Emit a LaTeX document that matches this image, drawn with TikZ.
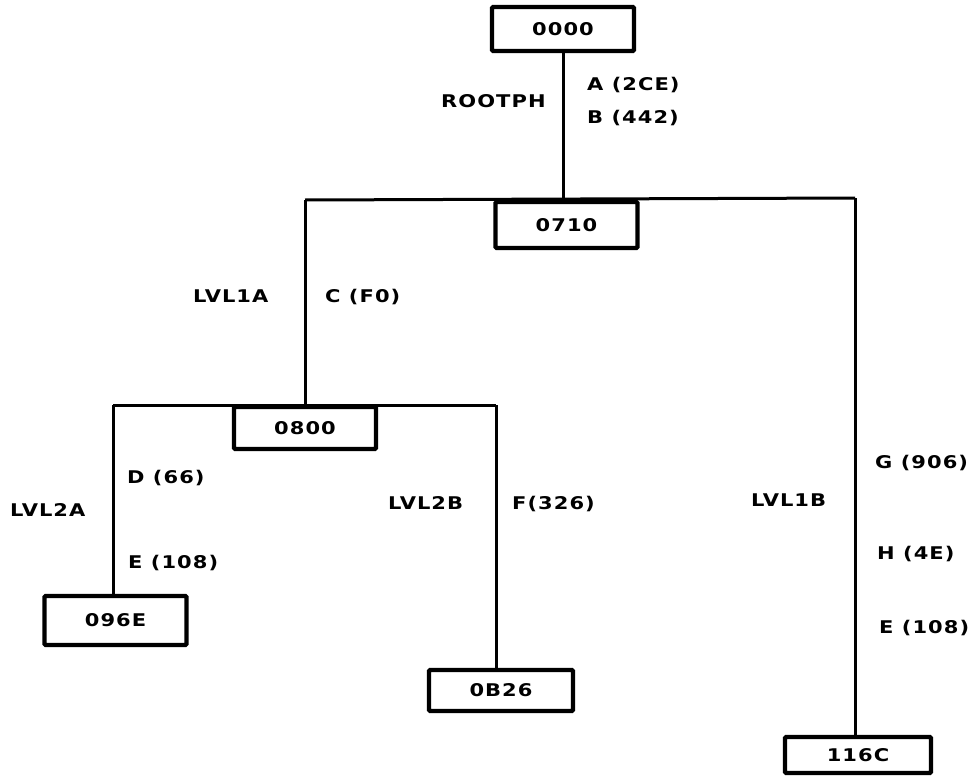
\documentclass[tikz,border=0pt]{standalone}
\usepackage{fontspec}
\setmainfont{DejaVu Sans}[BoldFont={DejaVu Sans Bold}]
\newfontfamily\lblfont{DejaVu Sans Bold}[FakeStretch=1.2,LetterSpace=6]
\begin{document}
\begin{tikzpicture}[x=1pt,y=-1pt,
  segbox/.style={draw, line width=4.2pt, rounded corners=1pt, inner sep=0pt,
    minimum width=142pt, font=\lblfont\fontsize{17.5}{17.5}\selectfont,
    text height=12.7pt, text depth=0pt},
  lbl/.style={anchor=mid west, inner sep=0pt, font=\lblfont\fontsize{17.5}{17.5}\selectfont},
  conn/.style={line width=3pt}]
\useasboundingbox (0,0) rectangle (977,776);
% boxes
\node[segbox, minimum height=44pt] (n0000) at (563,29) {0000};
\node[segbox, minimum height=46pt] (n0710) at (566.5,225) {0710};
\node[segbox, minimum height=42pt] (n0800) at (305,428) {0800};
\node[segbox, minimum height=49pt] (n096E) at (115.5,620.5) {096E};
\node[segbox, minimum height=41pt, minimum width=144pt] (n0B26) at (501,690.5) {0B26};
\node[segbox, minimum height=36pt, minimum width=146pt] (n116C) at (858,755) {116C};
% bus corners
\coordinate (b1L) at (305,200);
\coordinate (b1R) at (855,198);
\coordinate (b2L) at (113,405);
\coordinate (b2R) at (496,405);
% connectors
\draw[conn] (n0000.south) -- (n0000.south |- n0710.north);
\draw[conn] (b1L) -- (b1R);
\draw[conn] (b1L) -- (n0800.north);
\draw[conn] (b1R) -- (b1R |- n116C.north);
\draw[conn] (b2L) -- (b2R);
\draw[conn] (b2L) -- (b2L |- n096E.north);
\draw[conn] (b2R) -- (b2R |- n0B26.north);
% labels
\node[lbl] (lrootph) at (441,105) {ROOTPH};
\node[lbl] (la) at (587,88) {A (2CE)};
\node[lbl] (lb) at (587,121) {B (442)};
\node[lbl] (llvl1a) at (193,300) {LVL1A};
\node[lbl] (lc) at (325,300) {C (F0)};
\node[lbl] (ld) at (127,481) {D (66)};
\node[lbl] (llvl2a) at (10,514) {LVL2A};
\node[lbl] (le1) at (128,566) {E (108)};
\node[lbl] (llvl2b) at (388,507) {LVL2B};
\node[lbl] (lf) at (512,507) {F(326)};
\node[lbl] (llvl1b) at (751,504) {LVL1B};
\node[lbl] (lg) at (875,466) {G (906)};
\node[lbl] (lh) at (877,557) {H (4E)};
\node[lbl] (le2) at (879,631) {E (108)};
\end{tikzpicture}
\end{document}
